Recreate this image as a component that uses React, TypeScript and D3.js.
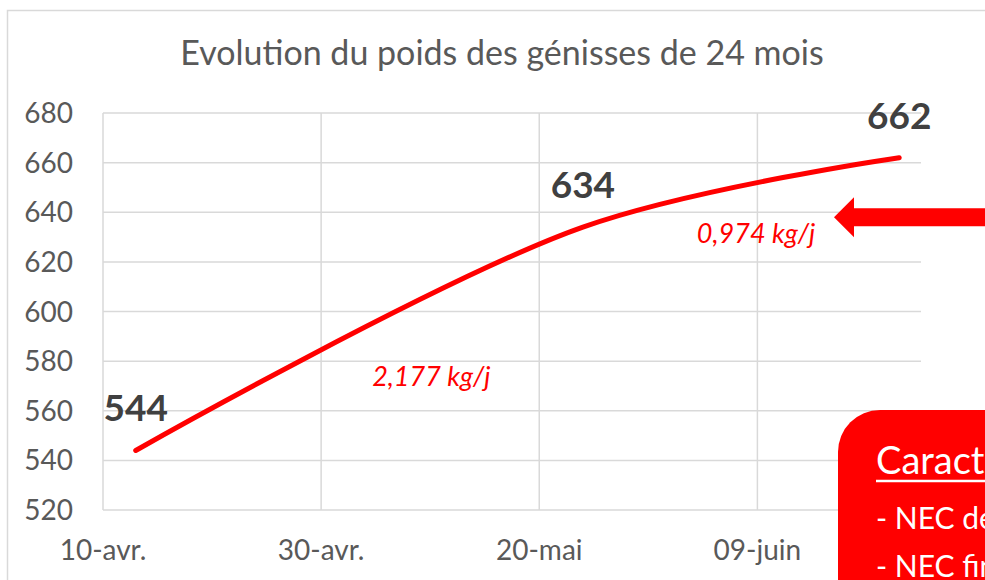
import React from 'react';
import * as d3 from 'd3';

// data
const dates = ['2021-04-13', '2021-05-24', '2021-06-22'];
const weights = [544, 634, 662];
const yTicks = [520, 540, 560, 580, 600, 620, 640, 660, 680];
const xTickDates = ['2021-04-10', '2021-04-30', '2021-05-20', '2021-06-09'];
const xTickLabels = ['10-avr.', '30-avr.', '20-mai', '09-juin'];
const gainLabels = ['2,177 kg/j', '0,974 kg/j'];
const boxLines = ['Caractéristiques', '- NEC début', '- NEC fin'];

const W = 985;
const H = 580;
const plot = { left: 103, right: 921, top: 113, bottom: 510 };
const font = 'Lato, "Open Sans", sans-serif';

const parse = d3.timeParse('%Y-%m-%d');

const App = () => {
  const x = d3.scaleTime()
    .domain([parse('2021-04-10')!, parse('2021-06-24')!])
    .range([plot.left, plot.right]);
  const y = d3.scaleLinear().domain([520, 680]).range([plot.bottom, plot.top]);

  const points = dates.map((d, i) => ({ date: parse(d)!, w: weights[i] }));
  const line = d3.line<{ date: Date; w: number }>()
    .x(d => x(d.date))
    .y(d => y(d.w))
    .curve(d3.curveCatmullRom.alpha(0.5));

  // gain labels sit between consecutive points
  const mid = (a: number, b: number) => (a + b) / 2;
  const gainPos = [
    { x: mid(x(points[0].date), x(points[1].date)) + 72, y: y(570) },
    { x: mid(x(points[1].date), x(points[2].date)) + 15, y: y(627.5) },
  ];

  // arrow pointing at the last segment
  const ay = y(640) + 5;
  const tip = 834;
  const arrow = `M${tip},${ay} L${tip + 20},${ay - 20} L${tip + 20},${ay - 9} L${W + 5},${ay - 9} L${W + 5},${ay + 9} L${tip + 20},${ay + 9} L${tip + 20},${ay + 20} Z`;

  return (
    <svg width={W} height={H} style={{ position: 'absolute', left: 0, top: 0, background: '#fff' }} fontFamily={font}>
      <rect x={7.5} y={10.5} width={W} height={H} fill="#fff" stroke="#d9d9d9" strokeWidth={1.5} />
      <text x={502} y={65} textAnchor="middle" fontSize={34} fill="#595959">
        Evolution du poids des génisses de 24 mois
      </text>

      {yTicks.map(t => (
        <g key={t}>
          <line x1={plot.left} x2={plot.right} y1={y(t)} y2={y(t)} stroke="#d9d9d9" strokeWidth={1.5} />
          <text x={73} y={y(t)} dy="0.36em" textAnchor="end" fontSize={28} fill="#595959">{t}</text>
        </g>
      ))}
      {xTickDates.map((d, i) => (
        <g key={d}>
          <line x1={x(parse(d)!)} x2={x(parse(d)!)} y1={plot.top} y2={plot.bottom} stroke="#d9d9d9" strokeWidth={1.5} />
          <text x={x(parse(d)!)} y={560} textAnchor="middle" fontSize={28} fill="#595959">{xTickLabels[i]}</text>
        </g>
      ))}

      <path d={line(points) ?? ''} fill="none" stroke="#ff0000" strokeWidth={5} strokeLinecap="round" />

      {points.map((p, i) => (
        <text key={i} x={x(p.date)} y={y(p.w) - 29} textAnchor="middle" fontSize={37} fontWeight="bold" fill="#404040">
          {p.w}
        </text>
      ))}

      {gainLabels.map((g, i) => (
        <text key={g} x={gainPos[i].x} y={gainPos[i].y} textAnchor="middle" fontSize={27} fontStyle="italic" fill="#ff0000">
          {g}
        </text>
      ))}

      <path d={arrow} fill="#ff0000" />

      <rect x={838} y={410} width={300} height={260} rx={42} fill="#ff0000" />
      <text x={876} y={474} fontSize={38} fill="#fff">{boxLines[0]}</text>
      <line x1={876} x2={W} y1={481} y2={481} stroke="#fff" strokeWidth={2.5} />
      <text x={876} y={529} fontSize={30} fill="#fff">{boxLines[1]}</text>
      <text x={876} y={577} fontSize={30} fill="#fff">{boxLines[2]}</text>
    </svg>
  );
};

export default App;
